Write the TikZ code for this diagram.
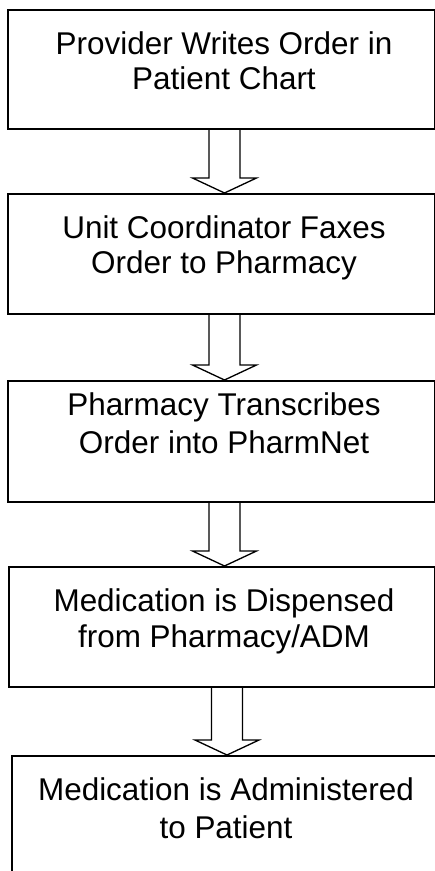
\documentclass[tikz,border=0pt]{standalone}
\usepackage{fontspec}
\setmainfont{Liberation Sans}
\usetikzlibrary{calc}

% one unit = one pixel of the sheet, y runs downwards
\tikzset{
  stepbox/.style={draw, line width=1pt, rectangle, anchor=north west, inner sep=0pt},
  steptext/.style={anchor=north, inner sep=0pt, align=center,
    font=\fontsize{17.9pt}{19.9pt}\selectfont},
  flowarrow/.style={draw, line width=0.75pt, line join=miter}
}

% hollow block arrow from the bottom of #1 down to the top of #2, on the line of #3
\newcommand{\blockarrow}[3]{%
  \coordinate (top) at (#1.south -| #3);
  \coordinate (tip) at (#2.north -| #3);
  \draw[flowarrow] ($(top)+(-15.5,0)$) -- ($(tip)+(-15.5,-15)$) -- ($(tip)+(-32,-15)$)
    -- (tip) -- ($(tip)+(32,-15)$) -- ($(tip)+(15.5,-15)$) -- ($(top)+(15.5,0)$);
}

\begin{document}
\begin{tikzpicture}[x=0.02cm, y=-0.02cm]
  \useasboundingbox (0,0) rectangle (435,871);
  \clip (0,0) rectangle (435,871);

  \coordinate (axis) at (224.5,0);
  \coordinate (axisb) at (227,0);

  % the five steps
  \node[stepbox, minimum width=8.54cm, minimum height=2.38cm] (order) at (7,9) {};
  \node[steptext] (ordertxt) at (224,31) {Provider Writes Order in\\Patient Chart};

  \node[stepbox, minimum width=8.54cm, minimum height=2.4cm] (fax) at (7,193) {};
  \node[steptext] (faxtxt) at (224,215) {Unit Coordinator Faxes\\Order to Pharmacy};

  \node[stepbox, minimum width=8.54cm, minimum height=2.42cm] (transcribe) at (7,380) {};
  \node[steptext] (transcribetxt) at (224,392) {Pharmacy Transcribes\\[1.7pt]Order into PharmNet};

  \node[stepbox, minimum width=8.52cm, minimum height=2.4cm] (dispense) at (8,566) {};
  \node[steptext] (dispensetxt) at (224,588) {Medication is Dispensed\\[1pt]from Pharmacy/ADM};

  \node[stepbox, minimum width=8.78cm, minimum height=2.7cm] (administer) at (11,755) {};
  \node[steptext] (administertxt) at (226,777) {Medication is Administered\\[1.7pt]to Patient};

  % arrows between them
  \blockarrow{order}{fax}{axis}
  \blockarrow{fax}{transcribe}{axis}
  \blockarrow{transcribe}{dispense}{axis}
  \blockarrow{dispense}{administer}{axisb}
\end{tikzpicture}
\end{document}
